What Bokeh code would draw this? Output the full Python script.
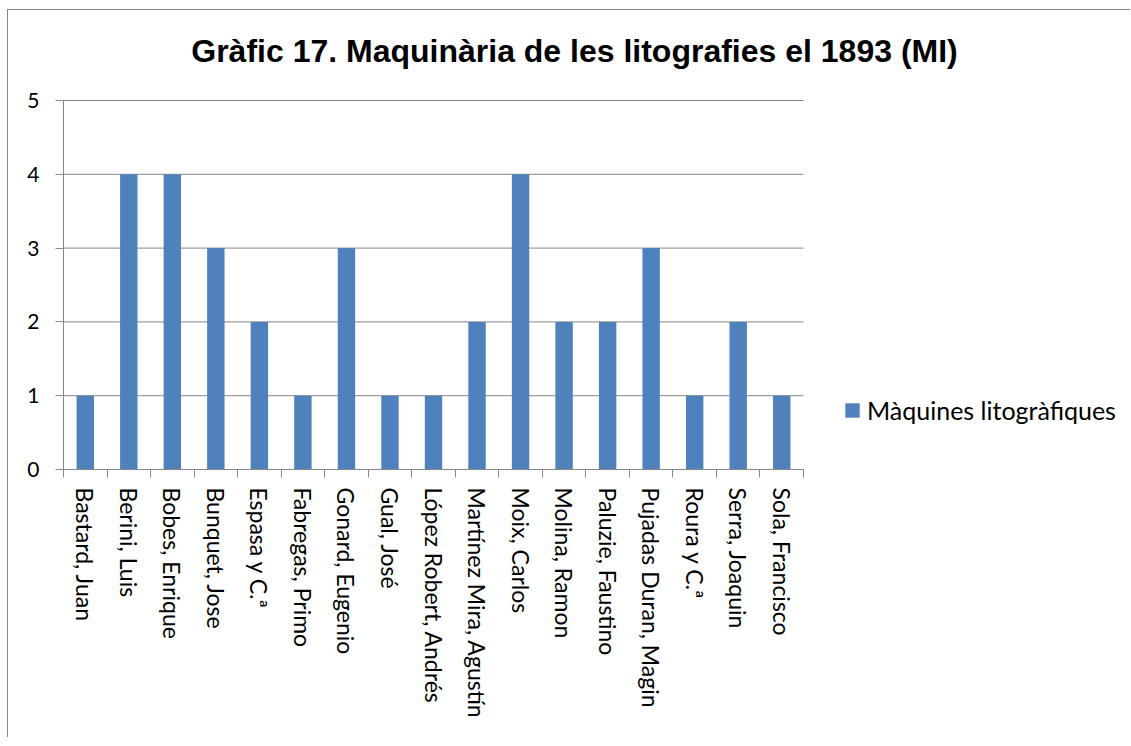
import numpy as np
from bokeh.plotting import figure
from bokeh.models import (Range1d, LinearAxis, FixedTicker, Legend, LegendItem, Label)
from bokeh.embed import file_html
from bokeh.resources import INLINE

title_text = "Gràfic 17. Maquinària de les litografies el 1893 (MI)"
series_name = "Màquines litogràfiques"
names = ["Bastard, Juan", "Berini, Luis", "Bobes, Enrique", "Bunquet, Jose",
         "Espasa y C.ª", "Fabregas, Primo", "Gonard, Eugenio", "Gual, José",
         "López Robert, Andrés", "Martínez Mira, Agustín", "Moix, Carlos",
         "Molina, Ramon", "Paluzie, Faustino", "Pujadas Duran, Magin",
         "Roura y C.ª", "Serra, Joaquin", "Sola, Francisco"]
values = [1, 4, 4, 3, 2, 1, 3, 1, 1, 2, 4, 2, 2, 3, 1, 2, 1]
y_ticks = [0, 1, 2, 3, 4, 5]

BAR = "#4F81BD"
GRID = "#868686"
LABEL_FONT = "Lato"

# layout (canvas pixels)
W, H = 1123, 728
LEFT, BOTTOM_Y = 55, 459
PLOT_W = 740                      # width of the category area
PLOT_H = 369                      # height of the 0..5 area
FRAME_W = W - LEFT
n = len(names)
y_max = y_ticks[-1]
centers = np.arange(n) + 0.5
x_end = n * FRAME_W / PLOT_W        # frame extends right to hold the legend
y_end = y_max * BOTTOM_Y / PLOT_H   # frame extends up to hold the title

p = figure(width=W, height=H, output_backend="svg", toolbar_location=None,
           x_range=Range1d(0, x_end), y_range=Range1d(0, y_end),
           x_axis_location=None, y_axis_location=None,
           min_border_left=LEFT, min_border_right=0,
           min_border_top=0, min_border_bottom=H - BOTTOM_Y)
p.outline_line_color = None
p.background_fill_color = "white"
p.border_fill_color = "white"
p.styles = {"margin-left": "7px", "margin-top": "9px",
            "border-top": "1px solid #898989", "border-left": "1px solid #898989"}

# horizontal gridlines limited to the category area
p.xgrid.visible = False
p.ygrid.visible = False
p.segment(x0=0, x1=n, y0=y_ticks[1:], y1=y_ticks[1:], line_color=GRID, line_width=1)

r = p.vbar(x=centers, top=values, width=0.4, fill_color=BAR, line_color=None)

# y axis
yax = LinearAxis(ticker=FixedTicker(ticks=y_ticks), bounds=(0, y_max))
yax.axis_line_color = GRID
yax.major_tick_line_color = GRID
yax.major_tick_out = 8
yax.major_tick_in = 0
yax.minor_tick_line_color = None
yax.major_label_text_font = LABEL_FONT
yax.major_label_text_font_size = "21px"
yax.major_label_text_color = "black"
yax.major_label_standoff = 16
p.add_layout(yax, "left")

# x axis: labels at centers, tick marks at category boundaries
xax = LinearAxis(ticker=FixedTicker(ticks=list(centers), minor_ticks=list(range(n + 1))),
                 bounds=(0, n))
xax.major_label_overrides = {float(c): nm for c, nm in zip(centers, names)}
xax.major_label_orientation = "vertical"
xax.axis_line_color = GRID
xax.major_tick_line_color = None
xax.minor_tick_line_color = GRID
xax.minor_tick_out = 8
xax.minor_tick_in = 0
xax.major_label_text_font = LABEL_FONT
xax.major_label_text_font_size = "23px"
xax.major_label_text_color = "black"
xax.major_label_standoff = 10
p.add_layout(xax, "below")

# title (inside the extended frame, screen units from frame's bottom-left)
p.add_layout(Label(x=511, y=BOTTOM_Y - 40, x_units="screen", y_units="screen",
                   text=title_text, text_align="center", text_baseline="middle",
                   text_font="Liberation Sans", text_font_style="bold",
                   text_font_size="32px", text_color="black"))

legend = Legend(items=[LegendItem(label=series_name, renderers=[r])],
                location=(780, 44), border_line_color=None,
                background_fill_alpha=0, padding=0, margin=0,
                glyph_width=18, glyph_height=18, label_standoff=6,
                label_text_font=LABEL_FONT, label_text_font_size="25px",
                label_text_color="black")
p.add_layout(legend, "center")

open("out.html", "w").write(file_html(p, INLINE))
